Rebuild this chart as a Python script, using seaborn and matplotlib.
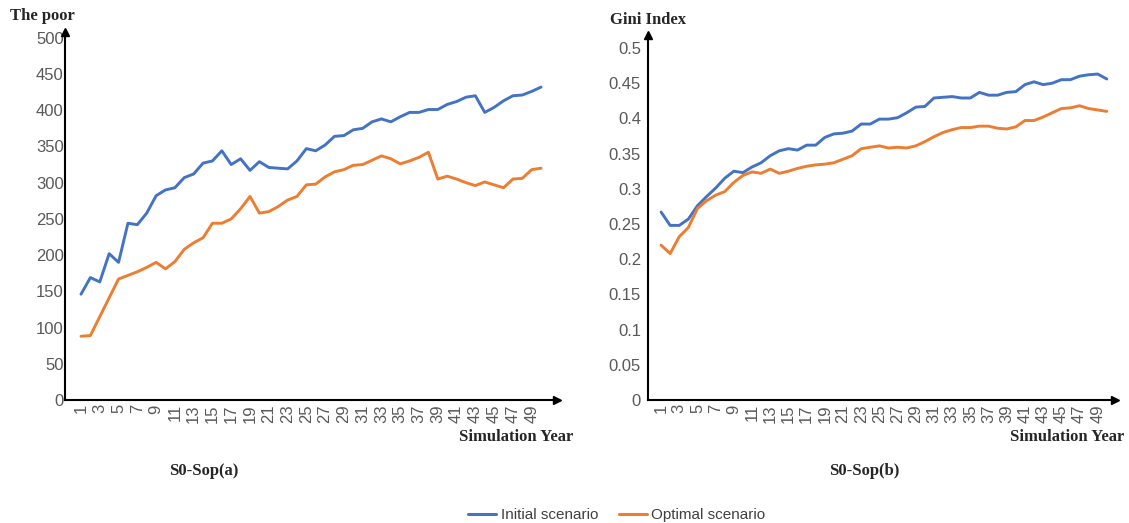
import numpy as np
import pandas as pd
import matplotlib
matplotlib.use("Agg")
import matplotlib.pyplot as plt
import seaborn as sns

# Simulation years
years = list(range(1, 51))

# Number of poor households per year
poor_initial = [146, 169, 163, 202, 190, 244, 242, 258, 282, 290,
                293, 307, 312, 327, 330, 344, 325, 333, 317, 329,
                321, 320, 319, 330, 347, 344, 352, 364, 365, 373,
                375, 384, 388, 384, 391, 397, 397, 401, 401, 408,
                412, 418, 420, 397, 404, 413, 420, 421, 426, 432]
poor_optimal = [88, 89, 115, 141, 167, 172, 177, 183, 190, 181,
                191, 208, 217, 224, 244, 244, 250, 264, 281, 258,
                260, 267, 276, 281, 297, 298, 308, 315, 318, 324,
                325, 331, 337, 333, 326, 330, 335, 342, 305, 309,
                305, 300, 296, 301, 297, 293, 305, 306, 318, 320]

# Gini index per year
gini_initial = [0.267, 0.248, 0.248, 0.257, 0.276, 0.289, 0.301, 0.315, 0.325, 0.323,
                0.331, 0.337, 0.347, 0.354, 0.357, 0.355, 0.362, 0.362, 0.373, 0.378,
                0.379, 0.382, 0.392, 0.392, 0.399, 0.399, 0.401, 0.408, 0.416, 0.417,
                0.429, 0.430, 0.431, 0.429, 0.429, 0.437, 0.433, 0.433, 0.437, 0.438,
                0.448, 0.452, 0.448, 0.450, 0.455, 0.455, 0.460, 0.462, 0.463, 0.456]
gini_optimal = [0.220, 0.208, 0.232, 0.245, 0.272, 0.283, 0.291, 0.296, 0.309, 0.319,
                0.324, 0.322, 0.328, 0.322, 0.325, 0.329, 0.332, 0.334, 0.335, 0.337,
                0.342, 0.347, 0.357, 0.359, 0.361, 0.358, 0.359, 0.358, 0.361, 0.367,
                0.374, 0.380, 0.384, 0.387, 0.387, 0.389, 0.389, 0.386, 0.385, 0.388,
                0.397, 0.397, 0.402, 0.408, 0.414, 0.415, 0.418, 0.414, 0.412, 0.410]

scenarios = ["Initial scenario", "Optimal scenario"]
colors = ["#4472C4", "#ED7D31"]

poor_ticks = [0, 50, 100, 150, 200, 250, 300, 350, 400, 450, 500]
gini_ticks = [0, 0.05, 0.1, 0.15, 0.2, 0.25, 0.3, 0.35, 0.4, 0.45, 0.5]
gini_tick_labels = ["0", "0.05", "0.1", "0.15", "0.2", "0.25", "0.3", "0.35", "0.4", "0.45", "0.5"]
year_ticks = years[::2]


def long_frame(a, b):
    return pd.DataFrame({
        "year": years * 2,
        "value": list(a) + list(b),
        "scenario": [scenarios[0]] * len(years) + [scenarios[1]] * len(years),
    })


sns.set_theme(style="white")
plt.rcParams["font.family"] = ["Liberation Sans", "DejaVu Sans"]

fig = plt.figure(figsize=(11.29, 5.23), dpi=100)
ax1 = fig.add_axes([0.0576, 0.2352, 0.4358, 0.7036])
ax2 = fig.add_axes([0.574, 0.2352, 0.4136, 0.6979])

palette = dict(zip(scenarios, colors))
tick_color = "#595959"
tick_font = dict(family=["Liberation Sans", "DejaVu Sans"], size=12)
title_font = dict(family=["Liberation Serif", "DejaVu Serif"], weight="bold", size=12)


def style_axes(ax, ylim, xlim, ypad):
    ax.set_xlim(*xlim)
    ax.set_ylim(*ylim)
    for side in ("top", "right"):
        ax.spines[side].set_visible(False)
    for side in ("left", "bottom"):
        ax.spines[side].set_color("black")
        ax.spines[side].set_linewidth(1.5)
    ax.tick_params(axis="both", length=0, colors=tick_color)
    ax.tick_params(axis="y", pad=ypad)
    ax.tick_params(axis="x", pad=3)
    ax.set_xticks(year_ticks)
    ax.set_xticklabels([str(y) for y in year_ticks], rotation=90, **tick_font)
    ax.set_xlabel("")
    ax.set_ylabel("")
    ax.grid(False)
    ax.plot([1], [0], marker=">", color="black", markersize=6,
            transform=ax.transAxes, clip_on=False)
    ax.plot([0], [1], marker="^", color="black", markersize=6,
            transform=ax.transAxes, clip_on=False)


sns.lineplot(data=long_frame(poor_initial, poor_optimal), x="year", y="value",
             hue="scenario", palette=palette, linewidth=2.1, ax=ax1, legend=False)
style_axes(ax1, (0, 508), (-0.7, 51.7), 1)
ax1.set_yticks(poor_ticks)
ax1.set_yticklabels([str(t) for t in poor_ticks], **tick_font)

sns.lineplot(data=long_frame(gini_initial, gini_optimal), x="year", y="value",
             hue="scenario", palette=palette, linewidth=2.1, ax=ax2, legend=False)
style_axes(ax2, (0, 0.5185), (-0.43, 50.9), 5)
ax2.set_yticks(gini_ticks)
ax2.set_yticklabels(gini_tick_labels, **tick_font)

# Axis titles and panel captions
fig.text(10 / 1129, 1 - 16 / 523, "The poor", ha="left", va="center", **title_font)
fig.text(610 / 1129, 1 - 20 / 523, "Gini Index", ha="left", va="center", **title_font)
fig.text(516 / 1129, 1 - 437 / 523, "Simulation Year", ha="center", va="center", **title_font)
fig.text(1067 / 1129, 1 - 437 / 523, "Simulation Year", ha="center", va="center", **title_font)
fig.text(204 / 1129, 1 - 471 / 523, "S0-Sop(a)", ha="center", va="center", **title_font)
fig.text(864 / 1129, 1 - 471 / 523, "S0-Sop(b)", ha="center", va="center", **title_font)

handles = [plt.Line2D([], [], color=c, linewidth=2.2) for c in colors]
leg = fig.legend(handles, scenarios, loc="center", bbox_to_anchor=(617 / 1129, 1 - 515 / 523),
                 ncol=2, frameon=False, handlelength=1.8, handletextpad=0.3,
                 columnspacing=1.4,
                 prop=dict(family=["Liberation Sans", "DejaVu Sans"], size=11))
for t in leg.get_texts():
    t.set_color("#404040")

fig.savefig("out.png", dpi=100, facecolor="white")
